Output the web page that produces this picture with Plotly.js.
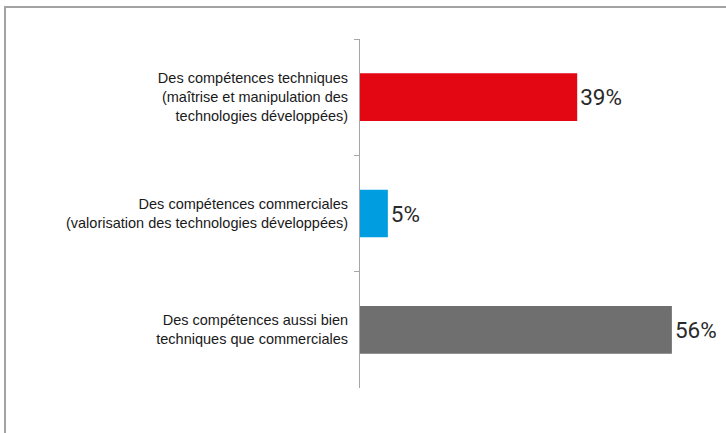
<!DOCTYPE html>
<html>
<head>
<meta charset="utf-8">
<script src="https://cdn.plot.ly/plotly-3.0.1.min.js"></script>
<style>
  html, body { margin: 0; padding: 0; background: #fff; }
  #wrap { position: relative; width: 726px; height: 433px; overflow: hidden; }
  #chart { position: absolute; left: 0; top: 0; width: 726px; height: 433px; }
  #frame { position: absolute; left: 4px; top: 6px; width: 800px; height: 600px;
           border-left: 2px solid #a3a3a3; border-top: 2px solid #a3a3a3; pointer-events: none; }
</style>
</head>
<body>
<div id="wrap">
  <div id="chart"></div>
  <div id="frame"></div>
</div>
<script>
const categories = [
  "Des compétences techniques<br>(maîtrise et manipulation des<br>technologies développées)",
  "Des compétences commerciales<br>(valorisation des technologies développées)",
  "Des compétences aussi bien<br>techniques que commerciales"
];
const values = [39, 5, 56];
const valueLabels = ["39%", "5%", "56%"];
const barColors = ["#e30613", "#009ee0", "#706f6f"];

const trace = {
  type: "bar",
  orientation: "h",
  y: categories,
  x: values,
  text: valueLabels,
  textposition: "outside",
  cliponaxis: false,
  textfont: { family: "Roboto, 'Liberation Sans', sans-serif", size: 22.5, color: "#2a2a2a" },
  marker: { color: barColors },
  width: 0.41,
  hoverinfo: "none"
};

const layout = {
  width: 726,
  height: 433,
  margin: { l: 360, r: 4, t: 39, b: 45, pad: 0 },
  paper_bgcolor: "rgba(0,0,0,0)",
  plot_bgcolor: "rgba(0,0,0,0)",
  showlegend: false,
  xaxis: {
    range: [0, 65],
    visible: false,
    showgrid: false,
    zeroline: false,
    fixedrange: true
  },
  yaxis: {
    type: "category",
    autorange: "reversed",
    showline: true,
    linecolor: "#a6a6a6",
    linewidth: 1,
    ticks: "outside",
    tickson: "boundaries",
    ticklen: 5,
    tickcolor: "#a6a6a6",
    tickwidth: 1,
    ticklabelstandoff: 8,
    showgrid: false,
    zeroline: false,
    tickfont: { family: "'Liberation Sans', Arial, sans-serif", size: 14.5, color: "#1a1a1a" },
    fixedrange: true
  }
};

Plotly.newPlot("chart", [trace], layout, { staticPlot: true, displayModeBar: false });
</script>
</body>
</html>
